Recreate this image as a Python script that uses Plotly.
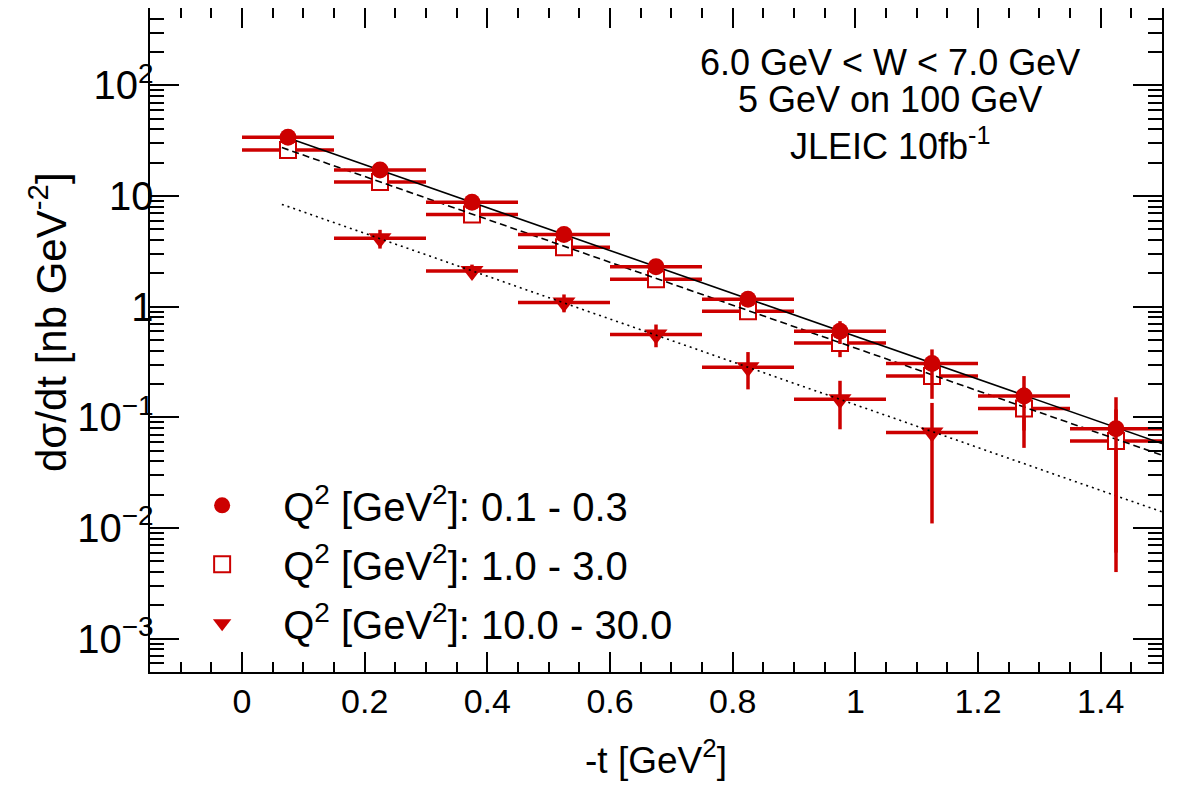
import plotly.graph_objects as go

# ---- data ----
t_circ = [0.075, 0.225, 0.375, 0.525, 0.675, 0.825, 0.975, 1.125, 1.275, 1.425]
xs_circ = [34.0, 17.2, 8.8, 4.5, 2.3, 1.17, 0.60, 0.306, 0.156, 0.079]
err_circ = [1.5, 0.9, 0.5, 0.3, 0.18, 0.12, 0.14, 0.105, 0.08, 0.073]

t_sq = [0.075, 0.225, 0.375, 0.525, 0.675, 0.825, 0.975, 1.125, 1.275, 1.425]
xs_sq = [26.0, 13.4, 6.8, 3.45, 1.77, 0.91, 0.47, 0.237, 0.12, 0.061]
err_sq = [1.2, 0.7, 0.4, 0.25, 0.14, 0.09, 0.12, 0.09, 0.067, 0.057]

t_tri = [0.225, 0.375, 0.525, 0.675, 0.825, 0.975, 1.125]
xs_tri = [4.15, 2.1, 1.09, 0.56, 0.284, 0.146, 0.073]
err_tri = [0.8, 0.3, 0.2, 0.13, 0.105, 0.068, 0.062]

bin_half_width = 0.075

# exponential fits (straight on log axis): end points
fit_t = [0.065, 1.5]
fit_solid = [35.0, 0.058]
fit_dash = [27.4, 0.0455]
fit_dot = [8.4, 0.014]

labels = ["Q<sup>2</sup> [GeV<sup>2</sup>]: 0.1 - 0.3",
          "Q<sup>2</sup> [GeV<sup>2</sup>]: 1.0 - 3.0",
          "Q<sup>2</sup> [GeV<sup>2</sup>]: 10.0 - 30.0"]
info_lines = ["6.0 GeV < W < 7.0 GeV", "5 GeV on 100 GeV", "JLEIC 10fb<sup>-1</sup>"]
x_title = "-t [GeV<sup>2</sup>]"
y_title = "dσ/dt [nb GeV<sup>-2</sup>]"

RED = "#cc0000"
FONT = "Liberation Sans, Arial, Helvetica, sans-serif"

# page body adds an 8px offset; figure laid out so the plot frame lands at
# screen x 150..1162, y 8..672
W, H = 1173, 782
ML, MR, MT, MB = 142, 19, 0, 118
PW, PH = W - ML - MR, H - MT - MB

fig = go.Figure()

fig.add_trace(go.Scatter(
    x=t_sq, y=xs_sq, mode="markers", name=labels[1], legendrank=2, legendgroup="b",
    marker=dict(symbol="square", size=16, color="white", line=dict(color=RED, width=2)),
    error_x=dict(type="constant", value=bin_half_width, color=RED, thickness=3.5, width=0),
    error_y=dict(type="data", array=err_sq, color=RED, thickness=3.5, width=0),
))
fig.add_trace(go.Scatter(
    x=t_tri, y=xs_tri, mode="markers", name=labels[2], legendrank=3, legendgroup="c",
    marker=dict(symbol="triangle-down", size=20, color=RED),
    error_x=dict(type="constant", value=bin_half_width, color=RED, thickness=3.5, width=0),
    error_y=dict(type="data", array=err_tri, color=RED, thickness=3.5, width=0),
))
fig.add_trace(go.Scatter(x=fit_t, y=fit_solid, mode="lines", showlegend=False,
                         line=dict(color="black", width=1.6), hoverinfo="skip"))
fig.add_trace(go.Scatter(x=fit_t, y=fit_dash, mode="lines", showlegend=False,
                         line=dict(color="black", width=1.6, dash="7px,4px"), hoverinfo="skip"))
fig.add_trace(go.Scatter(x=fit_t, y=fit_dot, mode="lines", showlegend=False,
                         line=dict(color="black", width=1.6, dash="2px,4px"), hoverinfo="skip"))
fig.add_trace(go.Scatter(
    x=t_circ, y=xs_circ, mode="markers", name=labels[0], legendrank=1, legendgroup="a",
    marker=dict(symbol="circle", size=17, color=RED),
    error_x=dict(type="constant", value=bin_half_width, color=RED, thickness=3.5, width=0),
    error_y=dict(type="data", array=err_circ, color=RED, thickness=3.5, width=0),
))

line_centres = [54, 92, 136]  # figure-pixel centres of the three info lines
for txt, yc in zip(info_lines, line_centres):
    fig.add_annotation(text=txt, xref="paper", yref="paper",
                       x=(890 - 150) / PW, y=(664 - yc) / PH,
                       xanchor="center", yanchor="middle", showarrow=False,
                       font=dict(size=36, color="black", family=FONT))

# y-axis title (placed as ROOT does, slightly above centre)
fig.add_annotation(text=y_title, xref="paper", yref="paper",
                   x=-(142 - 40) / PW, y=(664 - 314) / PH,
                   xanchor="center", yanchor="middle", textangle=-90, showarrow=False,
                   font=dict(size=42, color="black", family=FONT))

fig.update_xaxes(
    range=[-0.15, 1.5], tick0=0, dtick=0.2, ticks="inside", ticklen=20, tickwidth=1.5,
    tickcolor="black", mirror="allticks", showline=True, linecolor="black", linewidth=2,
    showgrid=False, zeroline=False,
    minor=dict(dtick=0.05, ticks="inside", ticklen=10, tickwidth=1.5, tickcolor="black", showgrid=False),
    tickfont=dict(size=34, color="black", family=FONT), ticklabelstandoff=-2,
    title=dict(text=x_title, font=dict(size=37, color="black", family=FONT), standoff=28),
)
fig.update_yaxes(
    type="log", range=[-3.30103, 2.69897], dtick=1, exponentformat="power",
    ticks="inside", ticklen=29, tickwidth=1.5, tickcolor="black", mirror="allticks",
    showline=True, linecolor="black", linewidth=2, showgrid=False, zeroline=False,
    minor=dict(dtick="D1", ticks="inside", ticklen=14, tickwidth=1.5, tickcolor="black", showgrid=False),
    tickfont=dict(size=32, color="black", family=FONT), ticklabelstandoff=-12,
)

fig.update_layout(
    width=W, height=H,
    margin=dict(l=ML, r=MR, t=MT, b=MB, autoexpand=False),
    paper_bgcolor="white", plot_bgcolor="white",
    font=dict(family=FONT, color="black"),
    legend=dict(x=0.011, y=0.30, xanchor="left", yanchor="top", bgcolor="rgba(0,0,0,0)",
                font=dict(size=40, color="black", family=FONT), itemwidth=112,
                tracegroupgap=4, traceorder="grouped"),
)

fig.write_html("out.html")
